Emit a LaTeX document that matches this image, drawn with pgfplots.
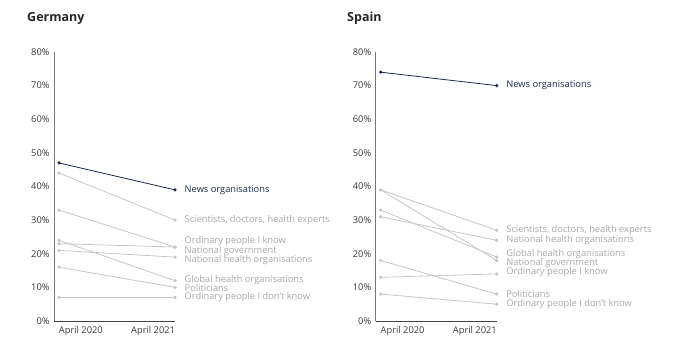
\documentclass[border=0pt]{standalone}
\usepackage{pgfplots}
\pgfplotsset{compat=1.18}
\usepackage{fontspec}
\setmainfont{Open Sans}
\definecolor{navy}{HTML}{1B2A4A}
\definecolor{lgray}{HTML}{C6C6C6}
\definecolor{tgray}{HTML}{A8A8A8}
\definecolor{axgray}{HTML}{777777}
\definecolor{axdark}{HTML}{444444}
\definecolor{tickc}{HTML}{3A3A3A}
\pgfplotsset{
 slope/.style={
  scale only axis, width=121bp, height=269bp, anchor=south west,
  xmin=-0.043, xmax=1, ymin=0, ymax=80, clip=false,
  axis y line=left, axis x line=bottom,
  x axis line style={axdark, line width=0.9bp, -}, y axis line style={axgray, line width=0.9bp, -},
  major tick length=0pt,
  ytick={0,10,...,80}, yticklabel={\pgfmathprintnumber{\tick}\%},
  /pgf/number format/assume math mode=true,
  yticklabel style={font=\fontsize{9.3bp}{11bp}\selectfont, text=tickc, xshift=-1bp},
  xtick={0,1}, xticklabels={\rlap{April 2020},\llap{April 2021}},
  xticklabel style={font=\fontsize{9.3bp}{11bp}\selectfont, text=tickc, anchor=north, yshift=-1.5bp},
  every axis plot/.append style={mark=*, mark size=1.2bp, line width=0.8bp},
 },
 gl/.style={lgray, mark options={lgray}},
 nl/.style={navy, mark options={navy}},
}
\newcommand{\lab}[3][tgray]{\node[anchor=west, inner sep=0pt, xshift=9.5bp, text=#1, font=\fontsize{9.3bp}{10bp}\selectfont] at (axis cs:1,#2) {#3};}
\begin{document}
\begin{tikzpicture}
\path (0bp,0bp) rectangle (680bp,362bp);
\node[anchor=west, inner sep=0pt, font=\fontsize{12.5bp}{14bp}\selectfont\bfseries, text=black!85] at (27bp,344bp) {Germany};
\node[anchor=west, inner sep=0pt, font=\fontsize{12.5bp}{14bp}\selectfont\bfseries, text=black!85] at (347bp,344bp) {Spain};
\begin{axis}[slope, at={(54bp,41bp)}]
\addplot[gl] coordinates {(0,44) (1,30)};
\addplot[gl] coordinates {(0,33) (1,22)};
\addplot[gl] coordinates {(0,23) (1,22)};
\addplot[gl] coordinates {(0,21) (1,19)};
\addplot[gl] coordinates {(0,24) (1,12)};
\addplot[gl] coordinates {(0,16) (1,10)};
\addplot[gl] coordinates {(0,7) (1,7)};
\addplot[nl] coordinates {(0,47) (1,39)};
\lab[navy]{39}{News organisations}
\lab{30}{Scientists, doctors, health experts}
\lab{23.7}{Ordinary people I know}
\lab{20.9}{National government}
\lab{18.2}{National health organisations}
\lab{12.1}{Global health organisations}
\lab{9.9}{Politicians}
\lab{7.0}{Ordinary people I don't know}
\end{axis}
\begin{axis}[slope, at={(375.7bp,41bp)}]
\addplot[gl] coordinates {(0,39) (1,27)};
\addplot[gl] coordinates {(0,31) (1,24)};
\addplot[gl] coordinates {(0,33) (1,19)};
\addplot[gl] coordinates {(0,39) (1,18)};
\addplot[gl] coordinates {(0,13) (1,14)};
\addplot[gl] coordinates {(0,18) (1,8)};
\addplot[gl] coordinates {(0,8) (1,5)};
\addplot[nl] coordinates {(0,74) (1,70)};
\lab[navy]{70}{News organisations}
\lab{26.9}{Scientists, doctors, health experts}
\lab{24.1}{National health organisations}
\lab{19.9}{Global health organisations}
\lab{17.3}{National government}
\lab{14.4}{Ordinary people I know}
\lab{8.1}{Politicians}
\lab{5.0}{Ordinary people I don't know}
\end{axis}
\end{tikzpicture}
\end{document}
